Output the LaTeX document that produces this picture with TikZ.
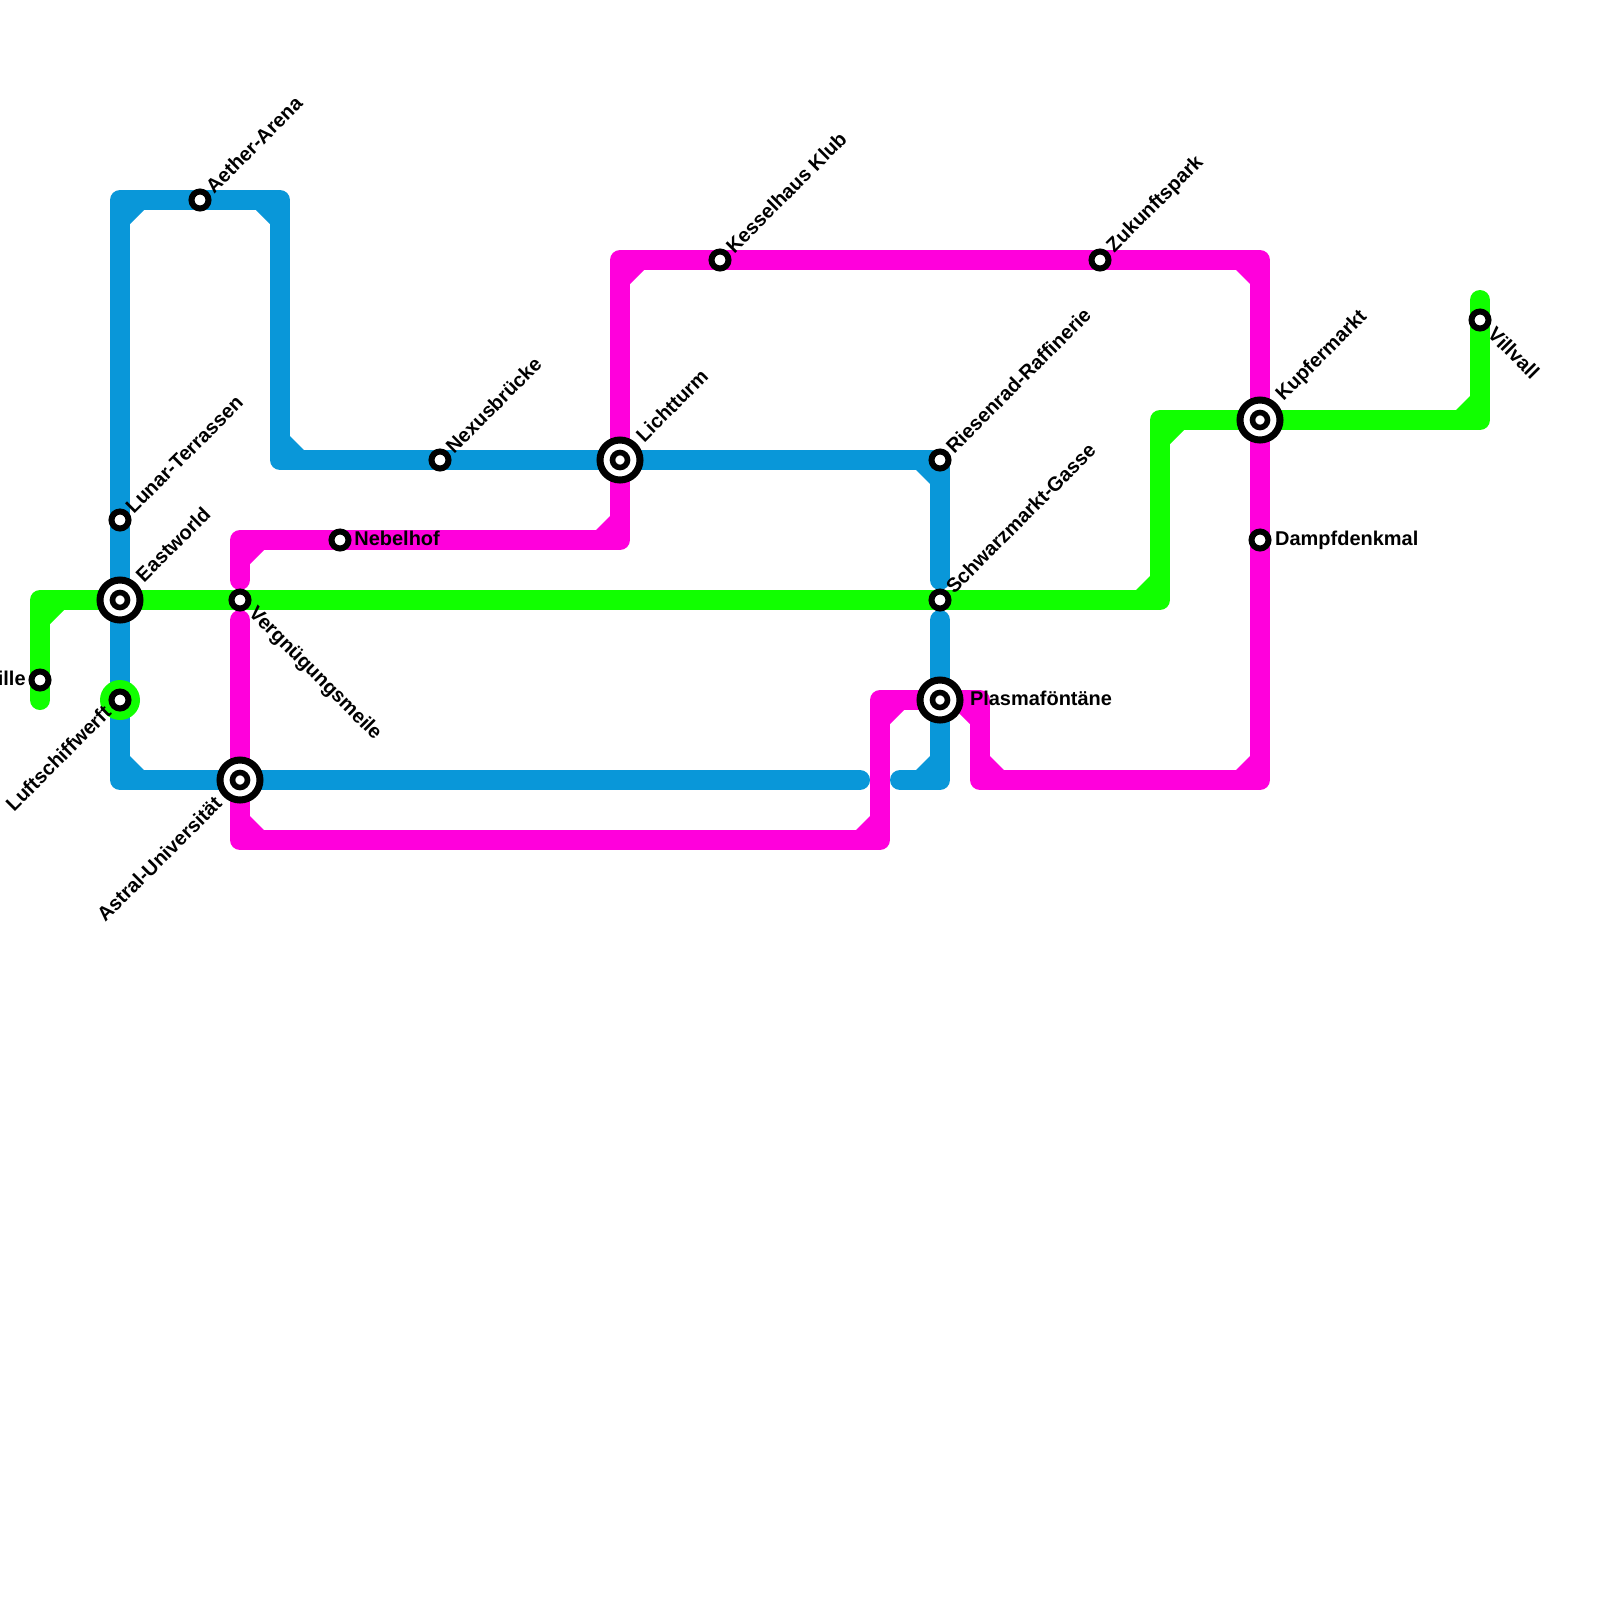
\documentclass[tikz,border=0pt]{standalone}
\usepackage{fontspec}
\setmainfont{Liberation Sans}
\usetikzlibrary{calc,backgrounds}
\definecolor{lineblue}{RGB}{9,151,217}
\definecolor{linegreen}{RGB}{17,255,0}
\definecolor{linepink}{RGB}{255,0,220}
\tikzset{
  metro/.style={line width=0.5cm, line join=round, line cap=round},
  mblue/.style={metro, lineblue},
  mgreen/.style={metro, linegreen},
  mpink/.style={metro, linepink},
  metrostop/.style={circle, draw=black, fill=white, line width=0.15cm,
                    minimum size=0.425cm, inner sep=0pt},
  metrohub/.style={metrostop, line width=0.175cm, minimum size=1cm},
  metrocore/.style={metrostop, line width=0.14cm, minimum size=0.375cm},
  stoplab/.style={inner sep=0pt, outer sep=0pt, text=black,
                  font=\fontsize{14.2}{16}\selectfont\bfseries},
  labup/.style={stoplab, rotate=45, anchor=west},
  labdown/.style={stoplab, rotate=-45, anchor=west},
  labback/.style={stoplab, rotate=45, anchor=east},
  labright/.style={stoplab, anchor=west},
}

\begin{document}
\begin{tikzpicture}[x=0.5cm, y=-0.5cm]
  \useasboundingbox (0,0) rectangle (80,80);

  % ---- corners and free ends ------------------------------------------------
  \foreach \n/\x/\y in {bA/6/39, bB/6/10, bC/14/10, bD/14/23, bE/47/23, bF/47/29,
                        bG/47/31, bH/47/39, bI/45/39, bJ/43/39,
                        pA/12/29, pB/12/27, pC/31/27, pD/31/13, pE/63/13,
                        pF/63/39, pG/49/39, pH/49/35, pI/44/35, pJ/44/42,
                        pK/12/42, pL/12/31,
                        gA/2/35, gB/2/30, gC/58/30, gD/58/21, gE/74/21, gF/74/15} {
    \coordinate (\n) at (\x,\y);
  }

  % ---- stations ---------------------------------------------------------------
  \foreach \n/\x/\y in {aether/10/10, lunar/6/26, nebelhof/17/27, nexus/22/23,
                        ille/2/34, vergnuegen/12/30, kessel/36/13, zukunft/55/13,
                        riesenrad/47/23, schwarz/47/30, dampf/63/27, villvall/74/16} {
    \node[metrostop] (\n) at (\x,\y) {};
  }
  \node[circle, fill=linegreen, minimum size=1cm, inner sep=0pt] (luftring) at (6,35) {};
  \node[metrostop] (luft) at (luftring.center) {};
  \foreach \n/\x/\y in {eastworld/6/30, astral/12/39, licht/31/23,
                        plasma/47/35, kupfer/63/21} {
    \node[metrohub] (\n) at (\x,\y) {};
    \node[metrocore] (\n in) at (\n.center) {};
  }

  % ---- the three lines -------------------------------------------------------
  \begin{scope}[on background layer]
    \draw[mblue] (bJ) -- (astral.center) -- (bA) -- (bB) -- (aether.center) -- (bC) -- (bD)
                 -- (nexus.center) -- (licht.center) -- (bE) -- (bF);
    \draw[mblue] (bG) -- (plasma.center) -- (bH) -- (bI);
    \draw[mgreen] (gA) -- (gB) -- (eastworld.center) -- (schwarz.center) -- (gC) -- (gD)
                  -- (kupfer.center) -- (gE) -- (gF);
    \draw[mpink] (pA) -- (pB) -- (nebelhof.center) -- (pC) -- (licht.center) -- (pD)
                 -- (kessel.center) -- (zukunft.center) -- (pE) -- (kupfer.center)
                 -- (dampf.center) -- (pF) -- (pG) -- (pH) -- (plasma.center) -- (pI)
                 -- (pJ) -- (pK) -- (astral.center) -- (pL);
    \foreach \c/\sx/\sy in {bA/1/-1, bB/1/1, bC/-1/1, bD/1/-1, bE/-1/1, bH/-1/-1} {
      \fill[lineblue, shift={(\c)}, xscale=\sx, yscale=\sy]
        (0.5,0.5) -- (1.2,0.5) -- (0.5,1.2) -- cycle;
    }
    \foreach \c/\sx/\sy in {gB/1/1, gC/-1/-1, gD/1/1, gE/-1/-1} {
      \fill[linegreen, shift={(\c)}, xscale=\sx, yscale=\sy]
        (0.5,0.5) -- (1.2,0.5) -- (0.5,1.2) -- cycle;
    }
    \foreach \c/\sx/\sy in {pB/1/1, pC/-1/-1, pD/1/1, pE/-1/1, pF/-1/-1,
                            pG/1/-1, pH/-1/1, pI/1/1, pJ/-1/-1, pK/1/-1} {
      \fill[linepink, shift={(\c)}, xscale=\sx, yscale=\sy]
        (0.5,0.5) -- (1.2,0.5) -- (0.5,1.2) -- cycle;
    }
  \end{scope}

  % ---- labels -----------------------------------------------------------------
  \node[labup] (aetherlab) at ([shift={(0.23cm,0.265cm)}]aether.center) {Aether-Arena};
  \node[labup] (lunarlab) at ([shift={(0.23cm,0.26cm)}]lunar.center) {Lunar-Terrassen};
  \node[labup] (nexuslab) at ([shift={(0.23cm,0.265cm)}]nexus.center) {Nexusbrücke};
  \node[labup] (kessellab) at ([shift={(0.23cm,0.265cm)}]kessel.center) {Kesselhaus Klub};
  \node[labup] (zukunftlab) at ([shift={(0.27cm,0.265cm)}]zukunft.center) {Zukunftspark};
  \node[labup] (riesenradlab) at ([shift={(0.23cm,0.265cm)}]riesenrad.center) {Riesenrad-Raffinerie};
  \node[labup] (schwarzlab) at ([shift={(0.23cm,0.265cm)}]schwarz.center) {Schwarzmarkt-Gasse};
  \node[labup] (eastworldlab) at ([shift={(0.48cm,0.55cm)}]eastworld.center) {Eastworld};
  \node[labup] (lichtlab) at ([shift={(0.48cm,0.55cm)}]licht.center) {Lichtturm};
  \node[labup] (kupferlab) at ([shift={(0.5cm,0.55cm)}]kupfer.center) {Kupfermarkt};
  \node[labdown] (vergnuegenlab) at ([shift={(0.29cm,-0.27cm)}]vergnuegen.center) {Vergnügungsmeile};
  \node[labdown] (villvalllab) at ([shift={(0.29cm,-0.27cm)}]villvall.center) {Villvall};
  \node[labback] (lufflab) at ([shift={(-0.32cm,-0.23cm)}]luft.center) {Luftschiffwerft};
  \node[labback] (astrallab) at ([shift={(-0.55cm,-0.5cm)}]astral.center) {Astral-Universität};
  \node[stoplab, anchor=east] (illelab) at ([shift={(-0.36cm,0.05cm)}]ille.center) {ille};
  \node[labright] (nebelhoflab) at ([shift={(0.36cm,0.05cm)}]nebelhof.center) {Nebelhof};
  \node[labright] (dampflab) at ([xshift=0.38cm]dampf.center) {Dampfdenkmal};
  \node[labright] (plasmalab) at ([shift={(0.75cm,0.05cm)}]plasma.center) {Plasmaföntäne};
\end{tikzpicture}
\end{document}
